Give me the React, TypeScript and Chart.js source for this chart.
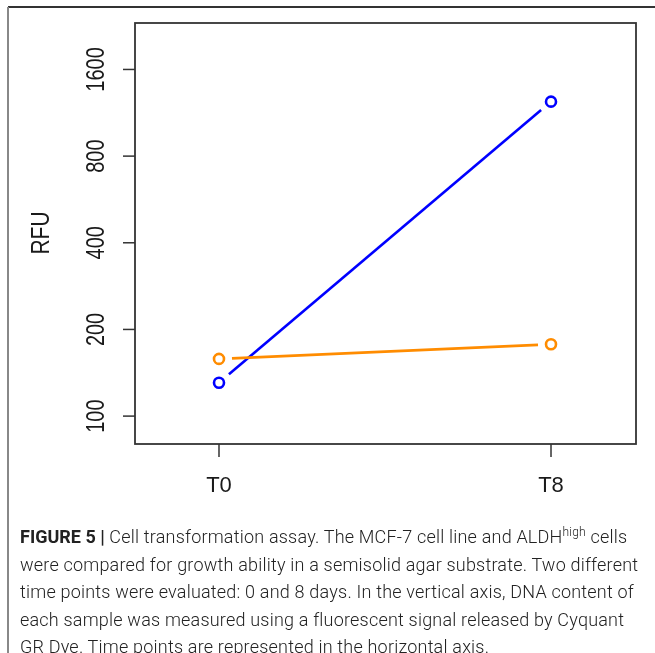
import React, { useEffect, useRef } from "react";
import { Chart, registerables } from "chart.js";

Chart.register(...registerables);

const timeLabels = ["T0", "T8"];
const timeX = [0, 1];
const mcf7Values = [130.6, 1237];
const aldhValues = [158, 177.6];
const yTicks = [100, 200, 400, 800, 1600];
const seriesColors = ["#0000FF", "#FF8C00"];

const W = 655;
const H = 653;

const boxPlugin = {
  id: "rbox",
  beforeDatasetsDraw(chart: any) {
    const { ctx } = chart;
    const gap = 13;
    chart.data.datasets.forEach((ds: any, i: number) => {
      const pts = chart.getDatasetMeta(i).data;
      ctx.save();
      ctx.strokeStyle = ds.borderColor;
      ctx.lineWidth = 2.6;
      for (let k = 0; k < pts.length - 1; k++) {
        const a = pts[k], b = pts[k + 1];
        const dx = b.x - a.x, dy = b.y - a.y;
        const len = Math.hypot(dx, dy);
        const ux = dx / len, uy = dy / len;
        ctx.beginPath();
        ctx.moveTo(a.x + ux * gap, a.y + uy * gap);
        ctx.lineTo(b.x - ux * gap, b.y - uy * gap);
        ctx.stroke();
      }
      ctx.restore();
    });
  },
  afterDraw(chart: any) {
    const { ctx, chartArea: ca, scales } = chart;
    const xs = scales.x, ys = scales.y;
    ctx.save();
    // outer figure frame
    ctx.strokeStyle = "#333";
    ctx.lineWidth = 2;
    ctx.beginPath();
    ctx.moveTo(8, 7);
    ctx.lineTo(W, 7);
    ctx.stroke();
    ctx.strokeStyle = "#888";
    ctx.beginPath();
    ctx.moveTo(8, 7);
    ctx.lineTo(8, H);
    ctx.stroke();
    // plot box
    ctx.strokeStyle = "#333";
    ctx.lineWidth = 1.8;
    ctx.strokeRect(ca.left, ca.top, ca.right - ca.left, ca.bottom - ca.top);
    // y ticks
    ctx.fillStyle = "#1a1a1a";
    ctx.lineWidth = 1.5;
    yTicks.forEach((v) => {
      const y = ys.getPixelForValue(v);
      ctx.beginPath();
      ctx.moveTo(ca.left - 12, y);
      ctx.lineTo(ca.left, y);
      ctx.stroke();
      ctx.save();
      ctx.translate(97, y);
      ctx.rotate(-Math.PI / 2);
      ctx.scale(1, 1.28);
      ctx.font = "20px 'Liberation Sans', Arial, sans-serif";
      ctx.textAlign = "center";
      ctx.textBaseline = "middle";
      ctx.fillText(String(v), 0, 0);
      ctx.restore();
    });
    // y title
    ctx.save();
    ctx.translate(42, 233);
    ctx.rotate(-Math.PI / 2);
    ctx.scale(1, 1.2);
    ctx.font = "21px 'Liberation Sans', Arial, sans-serif";
    ctx.textAlign = "center";
    ctx.textBaseline = "middle";
    ctx.fillText("RFU", 0, 0);
    ctx.restore();
    // x ticks
    timeX.forEach((v, i) => {
      const x = xs.getPixelForValue(v);
      ctx.beginPath();
      ctx.moveTo(x, ca.bottom);
      ctx.lineTo(x, ca.bottom + 13);
      ctx.stroke();
      ctx.font = "22px 'Liberation Sans', Arial, sans-serif";
      ctx.textAlign = "center";
      ctx.textBaseline = "middle";
      ctx.fillText(timeLabels[i], x, 486);
    });
    ctx.restore();
  },
};

export default function App() {
  const ref = useRef<HTMLCanvasElement>(null);
  useEffect(() => {
    document.body.style.margin = "0";
    const chart = new Chart(ref.current!, {
      type: "scatter",
      data: {
        datasets: [
          {
            label: "MCF-7",
            data: timeX.map((x, i) => ({ x, y: mcf7Values[i] })),
            borderColor: seriesColors[0],
            backgroundColor: "rgba(0,0,0,0)",
            pointRadius: 5,
            pointBorderWidth: 2.6,
            showLine: false,
          },
          {
            label: "ALDHhigh",
            data: timeX.map((x, i) => ({ x, y: aldhValues[i] })),
            borderColor: seriesColors[1],
            backgroundColor: "rgba(0,0,0,0)",
            pointRadius: 5,
            pointBorderWidth: 2.6,
            showLine: false,
          },
        ],
      },
      options: {
        animation: false,
        responsive: false,
        layout: { padding: { left: 135, top: 23, right: 19, bottom: 209 } },
        plugins: { legend: { display: false }, tooltip: { enabled: false } },
        scales: {
          x: { type: "linear", display: false, min: -0.253, max: 1.256 },
          y: { type: "logarithmic", display: false, min: 80, max: 2320 },
        },
      },
      plugins: [boxPlugin],
    });
    return () => chart.destroy();
  }, []);

  const capStyle: React.CSSProperties = {
    position: "absolute",
    left: 20,
    top: 523,
    width: 640,
    fontFamily: "Roboto, 'Liberation Sans', sans-serif",
    fontSize: 18,
    lineHeight: "27.5px",
    letterSpacing: "0.2px",
    color: "#222",
    fontWeight: 300,
  };

  return (
    <div style={{ position: "relative", width: W, height: H, background: "#fff", overflow: "hidden" }}>
      <canvas ref={ref} width={W} height={H} style={{ display: "block" }} />
      <div style={capStyle}>
        <div style={{ whiteSpace: "nowrap" }}>
          <b style={{ fontWeight: 700, letterSpacing: 0 }}>FIGURE 5 |</b> Cell transformation assay. The MCF-7 cell line and ALDH
          <sup style={{ fontSize: 12, lineHeight: 0 }}>high</sup> cells
        </div>
        <div style={{ whiteSpace: "nowrap" }}>were compared for growth ability in a semisolid agar substrate. Two different</div>
        <div style={{ whiteSpace: "nowrap" }}>time points were evaluated: 0 and 8 days. In the vertical axis, DNA content of</div>
        <div style={{ whiteSpace: "nowrap" }}>each sample was measured using a fluorescent signal released by Cyquant</div>
        <div style={{ whiteSpace: "nowrap" }}>GR Dye. Time points are represented in the horizontal axis.</div>
      </div>
    </div>
  );
}
